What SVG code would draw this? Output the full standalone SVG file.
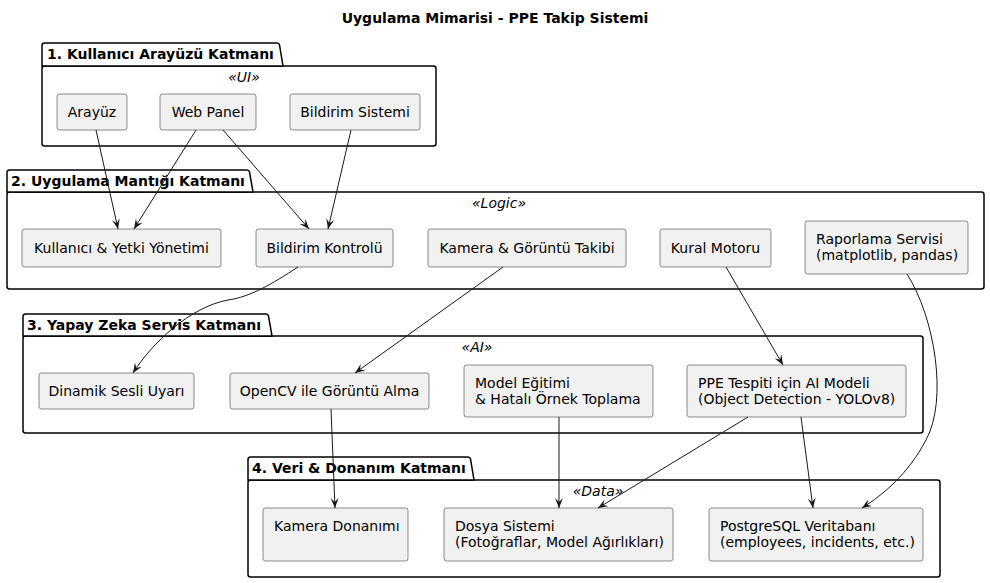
<svg xmlns="http://www.w3.org/2000/svg" width="990" height="583" viewBox="0 0 990 583">
<style>
text{font-family:"DejaVu Sans","Liberation Sans",sans-serif;font-size:14px;fill:#000}
.title{font-weight:bold;text-anchor:middle}
.pt{font-weight:bold}
.st{font-style:italic;text-anchor:middle}
.c{text-anchor:middle}
.pk{fill:#FFFFFF;stroke:#000;stroke-width:1.5}
.nd{fill:#F1F1F1;stroke:#181818;stroke-width:0.5}
.ln{fill:none;stroke:#181818;stroke-width:1}
</style>
<defs>
<marker id="ah" markerUnits="userSpaceOnUse" markerWidth="10" markerHeight="8" viewBox="0 0 10 8" refX="10" refY="4" orient="auto">
<path d="M10,4 L0,0 L4,4 L0,8 Z" fill="#181818"/>
</marker>
</defs>
<rect width="990" height="583" fill="#FFFFFF"/>
<text class="title" x="495" y="23">Uygulama Mimarisi - PPE Takip Sistemi</text>

<g id="pkg-ui">
<rect class="pk" x="42" y="66" width="394" height="80" rx="2.5"/>
<path class="pk" d="M42,66 V45.5 Q42,43 44.5,43 H277 Q279,43 279.5,45 L283,66 Z"/>
<text class="pt" x="47" y="59">1. Kullanıcı Arayüzü Katmanı</text>
<text class="st" x="244" y="82">«UI»</text>
</g>
<g id="pkg-logic">
<rect class="pk" x="7" y="192" width="977" height="97" rx="2.5"/>
<path class="pk" d="M7,192 V172.5 Q7,170 9.5,170 H247 Q249,170 249.5,172 L253,192 Z"/>
<text class="pt" x="11" y="186">2. Uygulama Mantığı Katmanı</text>
<text class="st" x="499" y="208">«Logic»</text>
</g>
<g id="pkg-ai">
<rect class="pk" x="23" y="336" width="900" height="97" rx="2.5"/>
<path class="pk" d="M23,336 V316.5 Q23,314 25.5,314 H266 Q268,314 268.5,316 L272,336 Z"/>
<text class="pt" x="27" y="330">3. Yapay Zeka Servis Katmanı</text>
<text class="st" x="477" y="352">«AI»</text>
</g>
<g id="pkg-data">
<rect class="pk" x="248" y="480" width="692" height="97" rx="2.5"/>
<path class="pk" d="M248,480 V459.5 Q248,457 250.5,457 H468 Q470,457 470.5,459 L474,480 Z"/>
<text class="pt" x="252" y="473">4. Veri &amp; Donanım Katmanı</text>
<text class="st" x="598" y="496">«Data»</text>
</g>

<g id="n-arayuz"><rect class="nd" x="57" y="94" width="70" height="36" rx="2.5"/><text class="c" x="92" y="117">Arayüz</text></g>
<g id="n-webpanel"><rect class="nd" x="160" y="94" width="96" height="36" rx="2.5"/><text class="c" x="208" y="117">Web Panel</text></g>
<g id="n-bildirimsistemi"><rect class="nd" x="290" y="94" width="130" height="36" rx="2.5"/><text class="c" x="355" y="117">Bildirim Sistemi</text></g>

<g id="n-kullanici"><rect class="nd" x="22" y="229" width="199" height="38" rx="2.5"/><text class="c" x="121.5" y="253">Kullanıcı &amp; Yetki Yönetimi</text></g>
<g id="n-bildirimkontrol"><rect class="nd" x="256" y="229" width="137" height="38" rx="2.5"/><text class="c" x="324.5" y="253">Bildirim Kontrolü</text></g>
<g id="n-kamera"><rect class="nd" x="428" y="229" width="198" height="38" rx="2.5"/><text class="c" x="527" y="253">Kamera &amp; Görüntü Takibi</text></g>
<g id="n-kural"><rect class="nd" x="660" y="229" width="111" height="38" rx="2.5"/><text class="c" x="715.5" y="253">Kural Motoru</text></g>
<g id="n-rapor"><rect class="nd" x="805" y="221" width="163" height="53" rx="2.5"/><text x="816" y="244">Raporlama Servisi</text><text x="816" y="260">(matplotlib, pandas)</text></g>

<g id="n-sesli"><rect class="nd" x="39" y="373" width="155" height="36" rx="2.5"/><text class="c" x="116.5" y="396">Dinamik Sesli Uyarı</text></g>
<g id="n-opencv"><rect class="nd" x="230" y="373" width="199" height="36" rx="2.5"/><text class="c" x="329.5" y="396">OpenCV ile Görüntü Alma</text></g>
<g id="n-model"><rect class="nd" x="464" y="365" width="189" height="52" rx="2.5"/><text x="475" y="388">Model Eğitimi</text><text x="475" y="404">&amp; Hatalı Örnek Toplama</text></g>
<g id="n-ppe"><rect class="nd" x="687" y="365" width="219" height="52" rx="2.5"/><text x="698" y="388">PPE Tespiti için AI Modeli</text><text x="698" y="404">(Object Detection - YOLOv8)</text></g>

<g id="n-kameradonanim"><rect class="nd" x="263" y="508" width="145" height="53" rx="2.5"/><text x="274" y="531">Kamera Donanımı</text></g>
<g id="n-dosya"><rect class="nd" x="444" y="508" width="229" height="53" rx="2.5"/><text x="455" y="531">Dosya Sistemi</text><text x="455" y="547">(Fotoğraflar, Model Ağırlıkları)</text></g>
<g id="n-postgres"><rect class="nd" x="709" y="508" width="214" height="53" rx="2.5"/><text x="720" y="531">PostgreSQL Veritabanı</text><text x="720" y="547">(employees, incidents, etc.)</text></g>

<g id="connectors">
<path class="ln" marker-end="url(#ah)" d="M96,130 L118,229"/>
<path class="ln" marker-end="url(#ah)" d="M196,130 L134,229"/>
<path class="ln" marker-end="url(#ah)" d="M223,130 L309,229"/>
<path class="ln" marker-end="url(#ah)" d="M351,130 L328,229"/>
<path class="ln" marker-end="url(#ah)" d="M298,267 C272,284 250,297 228,300 C190,307 152,343 133,373"/>
<path class="ln" marker-end="url(#ah)" d="M503,267 L355,373"/>
<path class="ln" marker-end="url(#ah)" d="M726,267 L783,365"/>
<path class="ln" marker-end="url(#ah)" d="M907,274 C935,318 948,400 926,440 C908,474 884,494 862,508"/>
<path class="ln" marker-end="url(#ah)" d="M331,409 L335,508"/>
<path class="ln" marker-end="url(#ah)" d="M559,417 L559,508"/>
<path class="ln" marker-end="url(#ah)" d="M748,417 L598,508"/>
<path class="ln" marker-end="url(#ah)" d="M801,417 L813,508"/>
</g>
</svg>
